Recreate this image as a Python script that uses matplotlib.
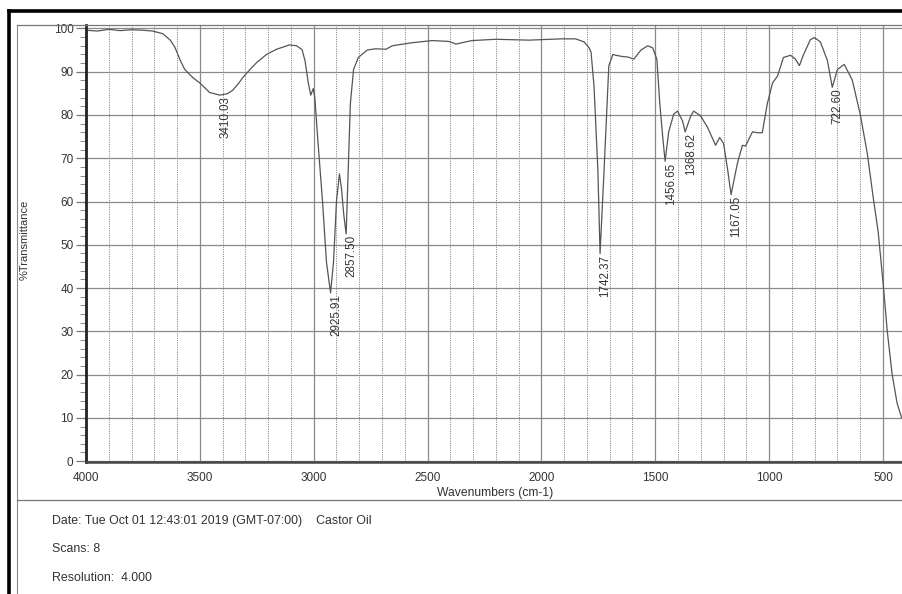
import matplotlib
matplotlib.use("Agg")
import matplotlib.pyplot as plt
from matplotlib.lines import Line2D
from matplotlib.ticker import MultipleLocator

plt.rcParams['font.family'] = ['Liberation Sans', 'DejaVu Sans']

# espectro IR (lecturas de la figura)
wavenumber = [4000, 3950, 3900, 3850, 3800, 3750, 3707, 3663, 3630, 3610, 3585, 3566,
              3530, 3500, 3457, 3413, 3380, 3356, 3330, 3312, 3280, 3251, 3207, 3163,
              3106, 3075, 3051, 3038, 3024, 3013, 3002, 2995, 2983, 2961, 2944, 2926,
              2913, 2900, 2887, 2878, 2868, 2857.5, 2848, 2839, 2825, 2804, 2765, 2730,
              2682, 2655, 2568, 2480, 2406, 2375, 2305, 2200, 2055, 1911, 1850, 1813,
              1790, 1782, 1769, 1752, 1742.4, 1725, 1712, 1704, 1686, 1673, 1642, 1620,
              1594, 1563, 1533, 1511, 1493, 1480, 1467, 1456.7, 1441, 1419, 1402, 1380,
              1368.6, 1344, 1331, 1301, 1270, 1235, 1217, 1200, 1182, 1167, 1139, 1117,
              1104, 1073, 1051, 1030, 1008, 985, 963, 937, 906, 884, 867, 850, 819, 801,
              775, 744, 722.6, 700, 670, 635, 600, 569, 543, 521, 499, 481, 460, 438, 418]
transmittance = [99.6, 99.4, 99.8, 99.5, 99.7, 99.6, 99.4, 98.8, 97.3, 95.7, 92.5, 90.5,
                 88.6, 87.4, 85.2, 84.6, 84.9, 85.7, 87.3, 88.6, 90.5, 92.1, 94.0, 95.2,
                 96.2, 96.0, 95.1, 92.5, 87.5, 84.6, 86.1, 84.0, 75.0, 59.8, 46.0, 38.9,
                 46.0, 60.0, 66.4, 63.0, 57.0, 52.5, 68.0, 82.6, 90.5, 93.3, 95.0, 95.3,
                 95.2, 96.0, 96.7, 97.2, 97.0, 96.4, 97.2, 97.5, 97.3, 97.6, 97.6, 96.9,
                 95.5, 94.5, 86.7, 67.3, 48.0, 67.0, 82.0, 91.4, 94.0, 93.8, 93.5, 93.4,
                 92.9, 95.0, 96.0, 95.5, 92.9, 82.6, 74.8, 69.3, 76.1, 80.2, 80.9, 78.6,
                 76.1, 79.8, 80.9, 79.8, 77.1, 73.0, 74.8, 73.4, 67.3, 61.6, 68.9, 73.0,
                 72.8, 76.1, 75.9, 75.9, 82.6, 87.4, 89.0, 93.3, 93.8, 92.9, 91.4, 93.8,
                 97.4, 97.9, 96.9, 92.6, 86.4, 90.5, 91.7, 88.1, 80.2, 71.2, 61.0, 53.0,
                 40.9, 30.0, 20.2, 13.4, 10.0]

peak_wn = [3410.03, 2925.91, 2857.50, 1742.37, 1456.65, 1368.62, 1167.05, 722.60]
peak_t = [84.6, 38.9, 52.5, 48.0, 69.3, 76.1, 61.6, 86.4]

info_lines = ["Date: Tue Oct 01 12:43:01 2019 (GMT-07:00)    Castor Oil",
              "Scans: 8",
              "Resolution:  4.000"]

W, H = 903, 594
fig = plt.figure(figsize=(W / 100, H / 100), dpi=100)
fig.patch.set_facecolor('white')


def fx(px):
    return px / W


def fy(py):
    return 1 - py / H


ax = fig.add_axes([fx(86), fy(462), fx(903) - fx(86), fy(25) - fy(462)])
ax.plot(wavenumber, transmittance, color='#555555', lw=0.9)
ax.set_xlim(4000, 412)
ax.set_ylim(-0.2, 100.8)

ax.xaxis.set_major_locator(MultipleLocator(500))
ax.xaxis.set_minor_locator(MultipleLocator(100))
ax.yaxis.set_major_locator(MultipleLocator(10))
ax.yaxis.set_minor_locator(MultipleLocator(2))

ax.grid(which='major', color='#8a8a8a', lw=0.9)
ax.grid(which='minor', axis='x', color='#8a8a8a', lw=0.7, ls=(0, (1.2, 1.2)))

ax.tick_params(axis='x', which='both', length=0, pad=7, labelsize=8.5, labelcolor='#333333')
ax.tick_params(axis='y', which='major', length=7, width=0.9, color='#777777', pad=2,
               labelsize=8.5, labelcolor='#333333')
ax.tick_params(axis='y', which='minor', length=4, width=0.7, color='#888888')

ax.spines['left'].set_linewidth(2.0)
ax.spines['left'].set_color('#222222')
ax.spines['bottom'].set_linewidth(1.8)
ax.spines['bottom'].set_color('#444444')
ax.spines['top'].set_linewidth(0.9)
ax.spines['top'].set_color('#777777')
ax.spines['right'].set_visible(False)

for wn, t in zip(peak_wn, peak_t):
    ax.annotate(f"{wn:.2f}", xy=(wn, t), xytext=(4, -1), textcoords='offset points',
                rotation=90, ha='center', va='top', fontsize=8.4, color='#333333')

fig.text(fx(25), fy(240), "%Transmittance", rotation=90, ha='center', va='center',
         fontsize=8, color='#333333')
fig.text(fx(495), fy(493), "Wavenumbers (cm-1)", ha='center', va='center',
         fontsize=8.7, color='#333333')

for i, line in enumerate(info_lines):
    fig.text(fx(52), fy(521 + i * 28.5), line, ha='left', va='center',
             fontsize=8.9, color='#333333')

# marco de la hoja
fig.add_artist(Line2D([fx(9), fx(9)], [fy(11), 0], color='black', lw=2.6))
fig.add_artist(Line2D([fx(9), 1], [fy(11), fy(11)], color='black', lw=2.6))
fig.add_artist(Line2D([fx(17), fx(17)], [fy(25), 0], color='#888888', lw=0.8))
fig.add_artist(Line2D([fx(17), fx(86)], [fy(25), fy(25)], color='#777777', lw=0.9))
fig.add_artist(Line2D([fx(17), 1], [fy(500), fy(500)], color='#777777', lw=0.9))

fig.savefig("out.png", dpi=100)
